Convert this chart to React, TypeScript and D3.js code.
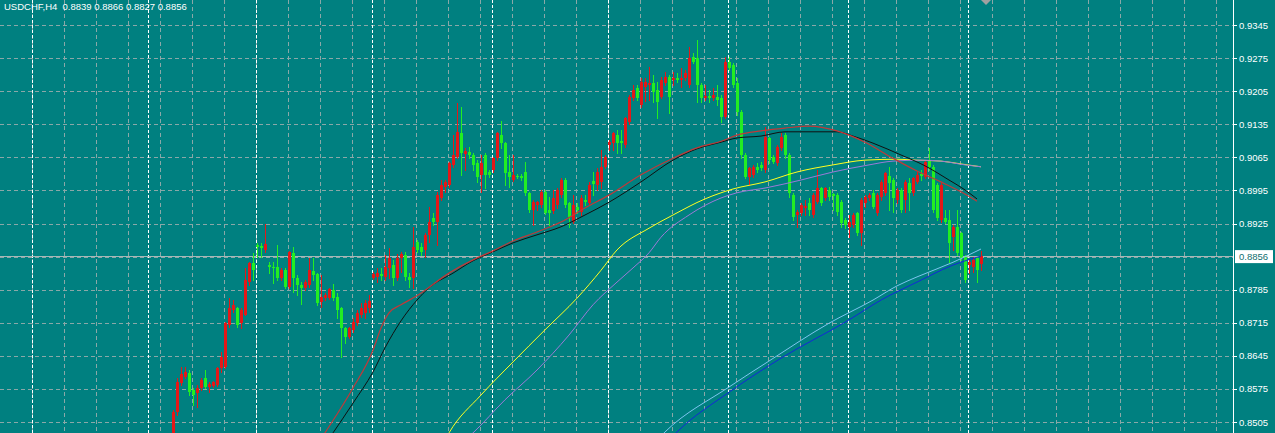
import React from "react";
import * as d3 from "d3";

const W = 1275;
const H = 433;
const AXIS_X = 1233;

const TITLE = "USDCHF,H4  0.8839 0.8866 0.8827 0.8856";
const PRICE_TICKS = [0.9345, 0.9275, 0.9205, 0.9135, 0.9065, 0.8995, 0.8925, 0.8855, 0.8785, 0.8715, 0.8645, 0.8575, 0.8505];
const LAST_PRICE = 0.8856;

// H4 bars (index 0 = first visible bar, 202 = current bar)
const OPEN = [
  0.8467, 0.8526, 0.8588, 0.8600, 0.8609, 0.8573, 0.8566, 0.8577, 0.8598, 0.8579,
  0.8581, 0.8583, 0.8619, 0.8621, 0.8710, 0.8742, 0.8746, 0.8714, 0.8731, 0.8801,
  0.8841, 0.8879, 0.8877, 0.8869, 0.8837, 0.8833, 0.8833, 0.8810, 0.8826, 0.8791,
  0.8863, 0.8810, 0.8795, 0.8789, 0.8795, 0.8824, 0.8818, 0.8759, 0.8767, 0.8767,
  0.8784, 0.8769, 0.8746, 0.8704, 0.8685, 0.8700, 0.8714, 0.8731, 0.8736, 0.8746,
  0.8810, 0.8812, 0.8818, 0.8812, 0.8831, 0.8837, 0.8810, 0.8852, 0.8858, 0.8812,
  0.8810, 0.8886, 0.8875, 0.8869, 0.8901, 0.8937, 0.8928, 0.8979, 0.9002, 0.9006,
  0.9049, 0.9066, 0.9116, 0.9072, 0.9076, 0.9070, 0.9053, 0.9028, 0.9070, 0.9034,
  0.9038, 0.9063, 0.9112, 0.9095, 0.9034, 0.9017, 0.9025, 0.9025, 0.9034, 0.8990,
  0.8954, 0.8964, 0.8964, 0.8992, 0.8954, 0.8952, 0.8964, 0.8985, 0.9017, 0.8968,
  0.8928, 0.8960, 0.8949, 0.8975, 0.8968, 0.9015, 0.9006, 0.9013, 0.9045, 0.9091,
  0.9095, 0.9112, 0.9099, 0.9091, 0.9140, 0.9191, 0.9212, 0.9176, 0.9214, 0.9218,
  0.9222, 0.9208, 0.9193, 0.9222, 0.9235, 0.9229, 0.9233, 0.9229, 0.9233, 0.9218,
  0.9277, 0.9275, 0.9218, 0.9191, 0.9195, 0.9191, 0.9193, 0.9191, 0.9150, 0.9267,
  0.9260, 0.9222, 0.9161, 0.9070, 0.9023, 0.9028, 0.9045, 0.9049, 0.9038, 0.9106,
  0.9066, 0.9053, 0.9085, 0.9112, 0.9070, 0.8985, 0.8943, 0.8947, 0.8958, 0.8968,
  0.8943, 0.8970, 0.9000, 0.8979, 0.8996, 0.8987, 0.8985, 0.8970, 0.8932, 0.8918,
  0.8922, 0.8947, 0.8905, 0.8968, 0.8979, 0.8990, 0.8947, 0.8981, 0.8990, 0.9025,
  0.9017, 0.8975, 0.8996, 0.8975, 0.9011, 0.8990, 0.9013, 0.9030, 0.9023, 0.9059,
  0.9045, 0.9006, 0.8932, 0.8937, 0.8932, 0.8896, 0.8918, 0.8905, 0.8854, 0.8837,
  0.8833, 0.8852, 0.8839,
];
const HIGH = [
  0.8530, 0.8598, 0.8621, 0.8621, 0.8615, 0.8577, 0.8583, 0.8598, 0.8615, 0.8590,
  0.8592, 0.8621, 0.8653, 0.8717, 0.8767, 0.8763, 0.8748, 0.8746, 0.8831, 0.8843,
  0.8863, 0.8884, 0.8884, 0.8924, 0.8843, 0.8843, 0.8879, 0.8831, 0.8831, 0.8867,
  0.8875, 0.8816, 0.8801, 0.8805, 0.8852, 0.8852, 0.8820, 0.8816, 0.8778, 0.8789,
  0.8797, 0.8778, 0.8748, 0.8706, 0.8706, 0.8725, 0.8742, 0.8757, 0.8763, 0.8774,
  0.8822, 0.8831, 0.8831, 0.8858, 0.8873, 0.8848, 0.8860, 0.8865, 0.8865, 0.8820,
  0.8918, 0.8890, 0.8884, 0.8905, 0.8960, 0.8947, 0.8992, 0.9017, 0.9017, 0.9055,
  0.9112, 0.9180, 0.9171, 0.9085, 0.9087, 0.9074, 0.9059, 0.9070, 0.9074, 0.9038,
  0.9066, 0.9118, 0.9142, 0.9097, 0.9070, 0.9070, 0.9030, 0.9030, 0.9055, 0.8992,
  0.8975, 0.8972, 0.8996, 0.8996, 0.8981, 0.8996, 0.9000, 0.9021, 0.9021, 0.8970,
  0.8985, 0.8968, 0.8985, 0.8985, 0.9013, 0.9034, 0.9042, 0.9080, 0.9070, 0.9102,
  0.9118, 0.9123, 0.9123, 0.9150, 0.9197, 0.9218, 0.9218, 0.9233, 0.9233, 0.9256,
  0.9239, 0.9225, 0.9235, 0.9246, 0.9239, 0.9246, 0.9243, 0.9254, 0.9250, 0.9298,
  0.9286, 0.9313, 0.9222, 0.9218, 0.9208, 0.9212, 0.9218, 0.9197, 0.9277, 0.9277,
  0.9265, 0.9233, 0.9165, 0.9074, 0.9045, 0.9049, 0.9053, 0.9055, 0.9129, 0.9108,
  0.9070, 0.9091, 0.9116, 0.9116, 0.9074, 0.8990, 0.8954, 0.8968, 0.8975, 0.8979,
  0.8990, 0.9038, 0.9002, 0.9002, 0.9002, 0.8990, 0.8990, 0.8975, 0.8937, 0.8943,
  0.8947, 0.8949, 0.8979, 0.8985, 0.8990, 0.8996, 0.8990, 0.9017, 0.9034, 0.9045,
  0.9021, 0.9000, 0.9000, 0.9017, 0.9021, 0.9023, 0.9034, 0.9038, 0.9059, 0.9085,
  0.9049, 0.9011, 0.9011, 0.8954, 0.8954, 0.8922, 0.8954, 0.8907, 0.8858, 0.8848,
  0.8854, 0.8854, 0.8866,
];
const LOW = [
  0.8456, 0.8520, 0.8583, 0.8598, 0.8562, 0.8541, 0.8537, 0.8573, 0.8577, 0.8568,
  0.8579, 0.8581, 0.8611, 0.8619, 0.8706, 0.8738, 0.8706, 0.8704, 0.8731, 0.8795,
  0.8805, 0.8854, 0.8854, 0.8865, 0.8820, 0.8799, 0.8805, 0.8805, 0.8789, 0.8789,
  0.8780, 0.8774, 0.8755, 0.8784, 0.8791, 0.8805, 0.8753, 0.8748, 0.8763, 0.8765,
  0.8763, 0.8725, 0.8643, 0.8672, 0.8683, 0.8696, 0.8710, 0.8727, 0.8725, 0.8738,
  0.8808, 0.8801, 0.8805, 0.8805, 0.8810, 0.8795, 0.8805, 0.8822, 0.8805, 0.8791,
  0.8789, 0.8865, 0.8858, 0.8854, 0.8886, 0.8922, 0.8879, 0.8975, 0.8992, 0.9002,
  0.9045, 0.9063, 0.9028, 0.9038, 0.9063, 0.9038, 0.9013, 0.8992, 0.9000, 0.9023,
  0.9034, 0.9059, 0.9085, 0.9006, 0.9002, 0.9015, 0.9021, 0.9017, 0.8985, 0.8949,
  0.8922, 0.8954, 0.8960, 0.8945, 0.8922, 0.8947, 0.8958, 0.8981, 0.8960, 0.8918,
  0.8926, 0.8947, 0.8943, 0.8964, 0.8964, 0.8985, 0.8996, 0.9000, 0.9042, 0.9080,
  0.9080, 0.9074, 0.9074, 0.9087, 0.9136, 0.9186, 0.9186, 0.9171, 0.9184, 0.9186,
  0.9182, 0.9148, 0.9191, 0.9218, 0.9159, 0.9218, 0.9225, 0.9214, 0.9229, 0.9214,
  0.9265, 0.9182, 0.9182, 0.9186, 0.9182, 0.9186, 0.9176, 0.9140, 0.9148, 0.9250,
  0.9214, 0.9155, 0.9063, 0.9021, 0.9006, 0.9023, 0.9034, 0.9038, 0.9034, 0.9053,
  0.9053, 0.9049, 0.9080, 0.9063, 0.8981, 0.8932, 0.8918, 0.8943, 0.8943, 0.8943,
  0.8939, 0.8968, 0.8964, 0.8975, 0.8975, 0.8954, 0.8943, 0.8918, 0.8915, 0.8896,
  0.8918, 0.8901, 0.8879, 0.8960, 0.8975, 0.8958, 0.8943, 0.8975, 0.8985, 0.8954,
  0.8949, 0.8968, 0.8949, 0.8949, 0.8954, 0.8985, 0.9011, 0.9017, 0.9021, 0.9038,
  0.8949, 0.8932, 0.8928, 0.8926, 0.8843, 0.8869, 0.8858, 0.8848, 0.8801, 0.8820,
  0.8822, 0.8801, 0.8827,
];
const CLOSE = [
  0.8526, 0.8590, 0.8606, 0.8611, 0.8568, 0.8562, 0.8577, 0.8594, 0.8579, 0.8585,
  0.8590, 0.8619, 0.8643, 0.8714, 0.8746, 0.8753, 0.8710, 0.8742, 0.8805, 0.8841,
  0.8826, 0.8875, 0.8873, 0.8882, 0.8833, 0.8831, 0.8810, 0.8826, 0.8791, 0.8865,
  0.8810, 0.8795, 0.8789, 0.8801, 0.8826, 0.8816, 0.8757, 0.8769, 0.8774, 0.8786,
  0.8767, 0.8742, 0.8704, 0.8685, 0.8704, 0.8717, 0.8736, 0.8746, 0.8757, 0.8761,
  0.8818, 0.8820, 0.8814, 0.8833, 0.8852, 0.8810, 0.8852, 0.8860, 0.8812, 0.8805,
  0.8875, 0.8869, 0.8865, 0.8901, 0.8928, 0.8928, 0.8985, 0.9006, 0.9013, 0.9053,
  0.9070, 0.9118, 0.9074, 0.9078, 0.9070, 0.9049, 0.9023, 0.9053, 0.9028, 0.9028,
  0.9063, 0.9116, 0.9095, 0.9032, 0.9023, 0.9028, 0.9023, 0.9021, 0.8990, 0.8954,
  0.8970, 0.8970, 0.8992, 0.8947, 0.8947, 0.8979, 0.8996, 0.9017, 0.8964, 0.8939,
  0.8964, 0.8954, 0.8979, 0.8970, 0.9006, 0.9009, 0.9034, 0.9045, 0.9066, 0.9097,
  0.9116, 0.9095, 0.9095, 0.9148, 0.9193, 0.9208, 0.9191, 0.9225, 0.9225, 0.9222,
  0.9203, 0.9182, 0.9229, 0.9235, 0.9193, 0.9233, 0.9229, 0.9233, 0.9243, 0.9275,
  0.9267, 0.9218, 0.9191, 0.9195, 0.9191, 0.9197, 0.9186, 0.9150, 0.9267, 0.9254,
  0.9218, 0.9161, 0.9070, 0.9023, 0.9042, 0.9045, 0.9038, 0.9042, 0.9108, 0.9059,
  0.9055, 0.9087, 0.9108, 0.9070, 0.8990, 0.8939, 0.8949, 0.8964, 0.8962, 0.8954,
  0.8985, 0.9000, 0.8968, 0.9000, 0.8981, 0.8983, 0.8949, 0.8926, 0.8922, 0.8928,
  0.8943, 0.8905, 0.8975, 0.8981, 0.8985, 0.8960, 0.8985, 0.9013, 0.9032, 0.9011,
  0.8979, 0.8996, 0.8954, 0.9013, 0.8990, 0.9021, 0.9028, 0.9025, 0.9055, 0.9045,
  0.8954, 0.8937, 0.9006, 0.8928, 0.8884, 0.8918, 0.8863, 0.8852, 0.8805, 0.8843,
  0.8848, 0.8826, 0.8856,
];

// first bar of each week (period separators), as bar indices
const WEEK_STARTS = [-35, -6, 21, 50, 80, 109, 139, 169, 199];

// moving averages: [bar index, price]
const MA_BROWN: [number, number][] = [
  [36, 0.8456], [38, 0.8482], [45, 0.8577], [50, 0.8657], [52, 0.8704], [54, 0.8736],
  [57, 0.8753], [61, 0.8772], [69, 0.8820], [75, 0.8848], [80, 0.8867], [85, 0.8888],
  [91, 0.8907], [97, 0.8928], [103, 0.8958], [109, 0.8985], [117, 0.9028], [125, 0.9063],
  [131, 0.9085], [137, 0.9099], [141, 0.9112], [147, 0.9121], [153, 0.9127], [159, 0.9131],
  [166, 0.9121], [173, 0.9097], [180, 0.9063], [186, 0.9036], [192, 0.9013], [197, 0.8992],
  [201, 0.8972],
];
const MA_BLACK: [number, number][] = [
  [37, 0.8446], [40, 0.8482], [45, 0.8545], [50, 0.8611], [53, 0.8662], [57, 0.8719],
  [61, 0.8763], [64, 0.8789], [70, 0.8820], [75, 0.8846], [80, 0.8865], [85, 0.8884],
  [91, 0.8901], [97, 0.8918], [103, 0.8943], [109, 0.8970], [117, 0.9013], [125, 0.9059],
  [131, 0.9083], [137, 0.9097], [141, 0.9106], [147, 0.9110], [153, 0.9119], [160, 0.9119],
  [166, 0.9119], [170, 0.9110], [175, 0.9095], [182, 0.9070], [188, 0.9047], [194, 0.9017],
  [198, 0.8996], [201, 0.8977],
];
const MA_YELLOW: [number, number][] = [
  [68, 0.8467], [69, 0.8482], [77, 0.8562], [85, 0.8632], [93, 0.8700], [101, 0.8767],
  [107, 0.8826], [111, 0.8869], [119, 0.8915], [125, 0.8943], [133, 0.8977], [140, 0.8998],
  [148, 0.9013], [156, 0.9034], [165, 0.9049], [173, 0.9059], [181, 0.9061], [186, 0.9059],
  [192, 0.9057], [197, 0.9051], [202, 0.9045],
];
const MA_PURPLE: [number, number][] = [
  [73, 0.8467], [75, 0.8482], [83, 0.8552], [91, 0.8615], [99, 0.8689], [105, 0.8753],
  [111, 0.8801], [115, 0.8831], [119, 0.8863], [122, 0.8896], [129, 0.8943], [137, 0.8979],
  [141, 0.8990], [148, 0.9000], [157, 0.9017], [165, 0.9034], [174, 0.9049], [180, 0.9057],
  [187, 0.9059], [192, 0.9057], [198, 0.9049], [202, 0.9045],
];
const MA_SKY: [number, number][] = [
  [121, 0.8467], [123, 0.8484], [139, 0.8579], [149, 0.8634], [164, 0.8714], [175, 0.8763],
  [181, 0.8793], [186, 0.8812], [195, 0.8843], [202, 0.8871],
];
const MA_BLUE: [number, number][] = [
  [124, 0.8467], [126, 0.8484], [139, 0.8568], [152, 0.8640], [169, 0.8721], [177, 0.8763],
  [186, 0.8801], [195, 0.8837], [202, 0.8856],
];

const BG = "#008080";
const UP = "#e41818";
const DOWN = "#22ee22";
const GRID = "#8aa8a8";

export default function App() {
  const n = CLOSE.length;
  const xs = d3.scaleLinear().domain([0, n - 1]).range([173, 981]);
  const ys = d3.scaleLinear().domain([0.8505, 0.9345]).range([422, 25]);

  const line = d3
    .line<[number, number]>()
    .x((d) => xs(d[0]))
    .y((d) => ys(d[1]))
    .curve(d3.curveMonotoneX);

  const gridX = d3.range(32, AXIS_X, 32);
  const fmt = d3.format(".4f");

  const mas: { data: [number, number][]; color: string; w: number }[] = [
    { data: MA_SKY, color: "#7cc4ee", w: 1 },
    { data: MA_BLUE, color: "#1428d8", w: 1 },
    { data: MA_YELLOW, color: "#ffff20", w: 1 },
    { data: MA_PURPLE, color: "#9a7ad8", w: 1 },
    { data: MA_BLACK, color: "#101010", w: 1 },
    { data: MA_BROWN, color: "#c23838", w: 1.2 },
  ];

  const font = "'Liberation Sans', Arial, sans-serif";

  return (
    <div style={{ position: "fixed", left: 0, top: 0, width: W, height: H }}>
      <svg width={W} height={H} style={{ display: "block" }}>
        <defs>
          <clipPath id="plot">
            <rect x={0} y={0} width={AXIS_X} height={H} />
          </clipPath>
        </defs>
        <rect x={0} y={0} width={W} height={H} fill={BG} />

        {/* horizontal grid */}
        {PRICE_TICKS.map((t) => (
          <line
            key={"h" + t}
            x1={0}
            x2={AXIS_X}
            y1={Math.round(ys(t)) + 0.5}
            y2={Math.round(ys(t)) + 0.5}
            stroke={GRID}
            strokeDasharray="4,3"
          />
        ))}
        {/* vertical grid */}
        {gridX.map((gx) => (
          <line
            key={"v" + gx}
            x1={gx + 0.5}
            x2={gx + 0.5}
            y1={0}
            y2={H}
            stroke={GRID}
            strokeDasharray="4,3"
          />
        ))}
        {/* period separators */}
        {WEEK_STARTS.map((k) => {
          const x = Math.round(xs(k)) - 0.5;
          return (
            <line key={"s" + k} x1={x} x2={x} y1={0} y2={H} stroke="#ffffff" strokeDasharray="3,2" />
          );
        })}

        {/* last price line */}
        <line
          x1={0}
          x2={AXIS_X}
          y1={Math.round(ys(LAST_PRICE)) + 0.5}
          y2={Math.round(ys(LAST_PRICE)) + 0.5}
          stroke="#a8b8b8"
        />

        <g clipPath="url(#plot)">
          {CLOSE.map((c, i) => {
            const o = OPEN[i];
            const x = Math.round(xs(i));
            const color = c >= o ? UP : DOWN;
            const yT = Math.round(ys(Math.max(o, c)));
            const yB = Math.round(ys(Math.min(o, c)));
            const hgt = Math.max(1, yB - yT);
            return (
              <g key={i}>
                <line
                  x1={x + 0.5}
                  x2={x + 0.5}
                  y1={Math.round(ys(HIGH[i]))}
                  y2={Math.round(ys(LOW[i])) + 1}
                  stroke={color}
                />
                <rect x={x - 1} y={yT} width={3} height={hgt} fill={color} />
              </g>
            );
          })}
          {mas.map((m, i) => (
            <path key={"ma" + i} d={line(m.data) || ""} fill="none" stroke={m.color} strokeWidth={m.w} />
          ))}
        </g>

        {/* shift marker */}
        <path d="M981,0 L991,0 L986,5 Z" fill="#a0a0a0" />

        {/* price axis */}
        <line x1={AXIS_X + 0.5} x2={AXIS_X + 0.5} y1={0} y2={H} stroke="#ffffff" />
        {PRICE_TICKS.filter((t) => Math.abs(t - LAST_PRICE) > 0.0005).map((t) => (
          <g key={"l" + t}>
            <line
              x1={AXIS_X}
              x2={AXIS_X + 4}
              y1={Math.round(ys(t)) + 0.5}
              y2={Math.round(ys(t)) + 0.5}
              stroke="#ffffff"
            />
            <text x={1239} y={ys(t) + 3.5} fill="#ffffff" fontSize={9.5} fontFamily={font}>
              {fmt(t)}
            </text>
          </g>
        ))}
        <rect x={1235} y={ys(LAST_PRICE) - 6} width={38} height={13} fill="#ffffff" />
        <text x={1239} y={ys(LAST_PRICE) + 3.5} fill="#0f6f6f" fontSize={9.5} fontFamily={font}>
          {fmt(LAST_PRICE)}
        </text>

        <text x={4} y={10} fill="#ffffff" fontSize={9.5} fontFamily={font} style={{ whiteSpace: "pre" }}>
          {TITLE}
        </text>
      </svg>
    </div>
  );
}
